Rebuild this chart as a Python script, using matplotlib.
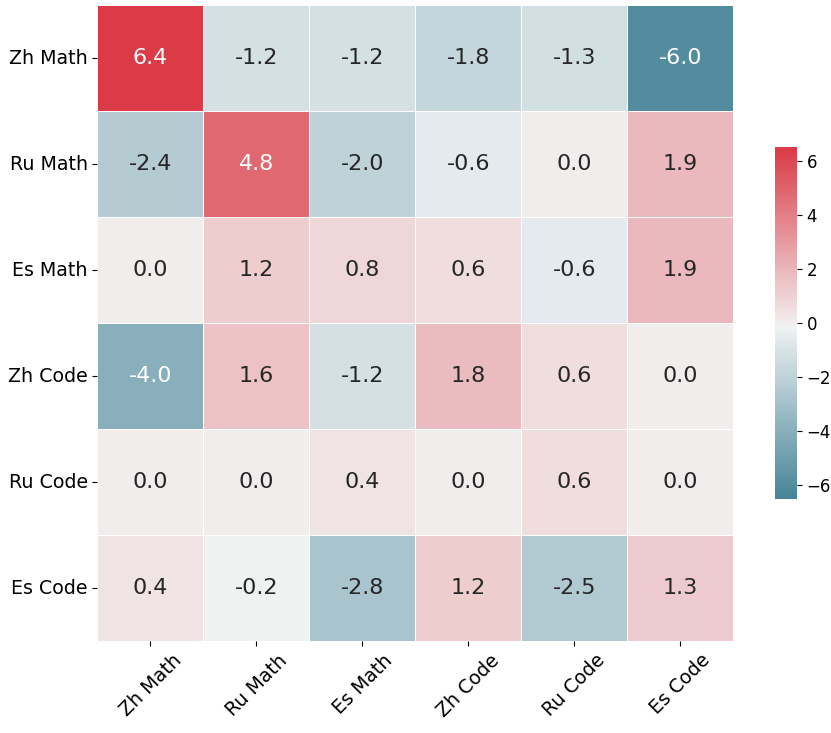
import numpy as np
import matplotlib
matplotlib.use('Agg')
import matplotlib.pyplot as plt
import seaborn as sns

labels = ['Zh Math', 'Ru Math', 'Es Math', 'Zh Code', 'Ru Code', 'Es Code']

# rows: Zh Math, Ru Math, Es Math, Zh Code, Ru Code, Es Code
row_zh_math = [6.4, -1.2, -1.2, -1.8, -1.3, -6.0]
row_ru_math = [-2.4, 4.8, -2.0, -0.6, 0.0, 1.9]
row_es_math = [0.0, 1.2, 0.8, 0.6, -0.6, 1.9]
row_zh_code = [-4.0, 1.6, -1.2, 1.8, 0.6, 0.0]
row_ru_code = [0.0, 0.0, 0.4, 0.0, 0.6, 0.0]
row_es_code = [0.4, -0.2, -2.8, 1.2, -2.5, 1.3]

values = np.array([row_zh_math, row_ru_math, row_es_math,
                   row_zh_code, row_ru_code, row_es_code])

fig = plt.figure(figsize=(8.31, 7.33), dpi=100)
ax = fig.add_axes([97 / 831, 92 / 733, 637 / 831, 636 / 733])
cax = fig.add_axes([775 / 831, 234 / 733, 22 / 831, 352 / 733])

cmap = sns.diverging_palette(220, 10, as_cmap=True)
sns.heatmap(values, ax=ax, cbar_ax=cax, cmap=cmap, center=-0.15,
            vmin=-6.5, vmax=6.5,
            annot=True, fmt='.1f', annot_kws={'size': 16},
            linewidths=0.7, linecolor='white', square=True,
            xticklabels=labels, yticklabels=labels)
ax.tick_params(axis='both', labelsize=13.7)
plt.setp(ax.get_xticklabels(), rotation=45, ha='center')
plt.setp(ax.get_yticklabels(), rotation=0)
cax.tick_params(labelsize=12)
for sp in cax.spines.values():
    sp.set_visible(False)

plt.savefig('out.png', dpi=100)
